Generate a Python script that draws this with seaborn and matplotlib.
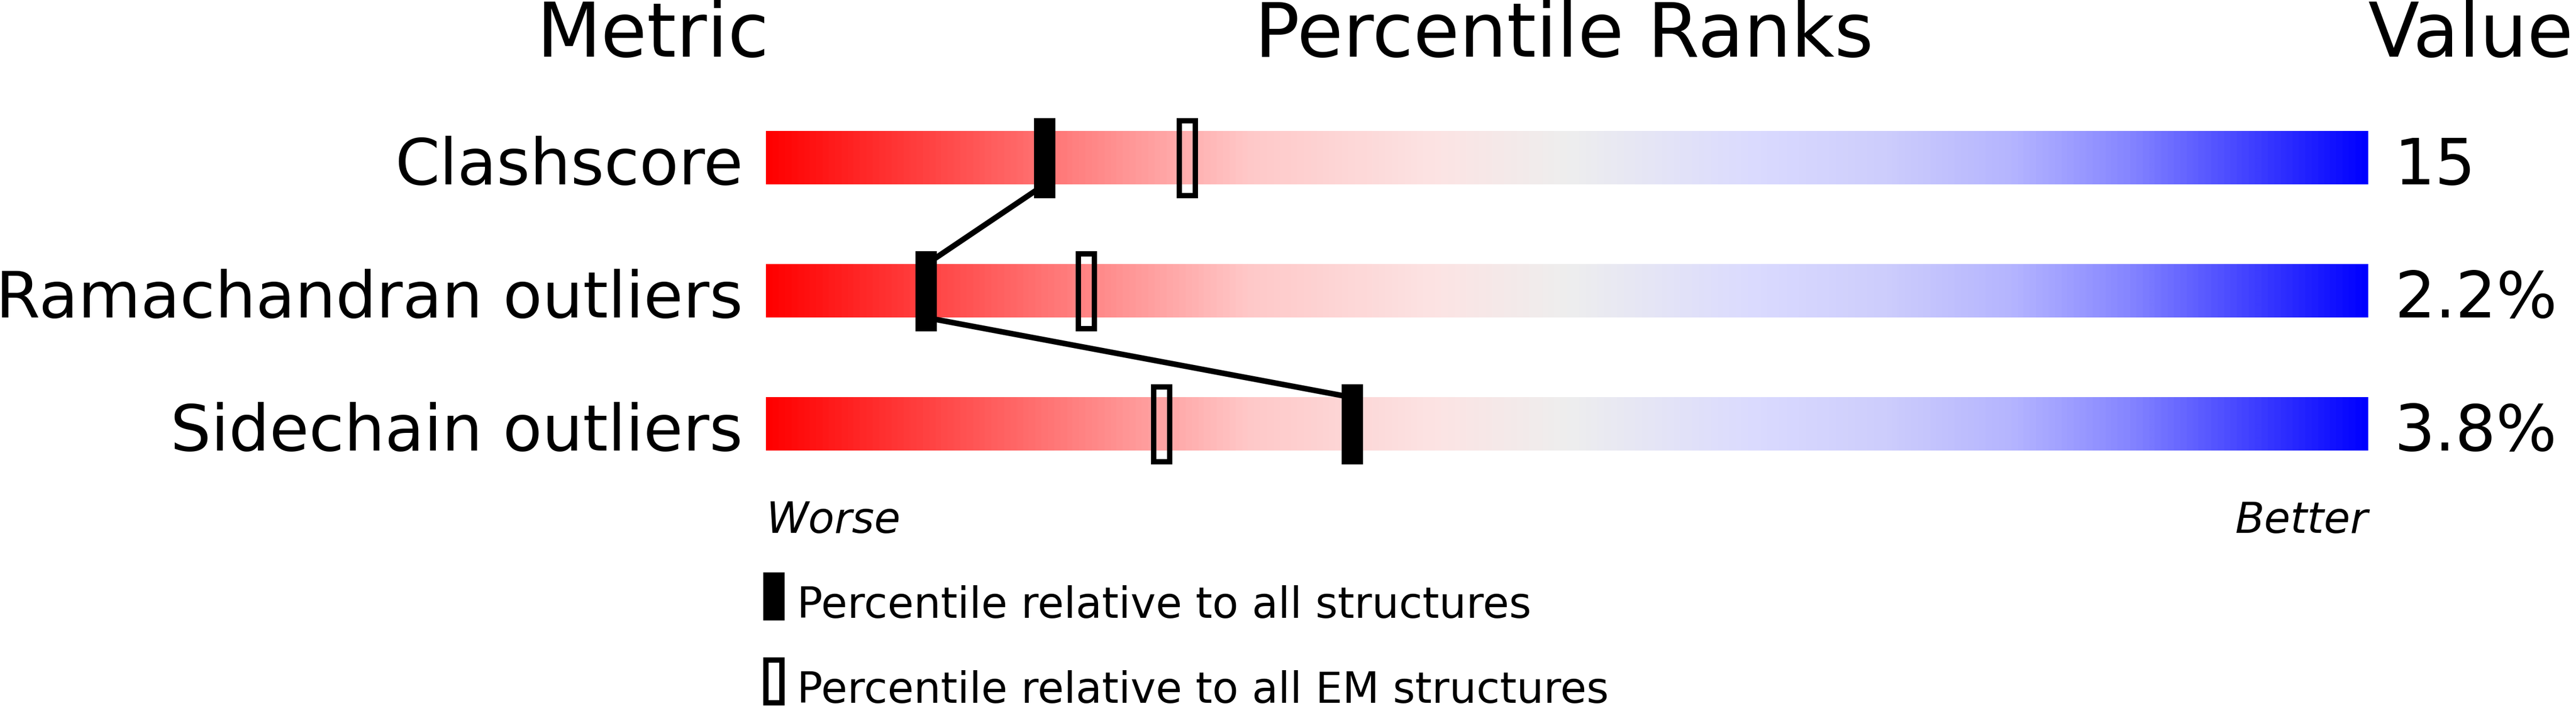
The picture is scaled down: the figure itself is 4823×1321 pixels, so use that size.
import numpy as np
import pandas as pd
import seaborn as sns
import matplotlib.pyplot as plt
from matplotlib.path import Path
from matplotlib.lines import Line2D
from matplotlib.colors import LinearSegmentedColormap

metrics = ["Clashscore", "Ramachandran outliers", "Sidechain outliers"]
values = ["15", "2.2%", "3.8%"]
pct_all = [17.4, 10.0, 36.6]   # percentile vs all structures
pct_em = [26.3, 20.0, 24.7]    # percentile vs EM structures
legend_labels = ["Percentile relative to all structures",
                 "Percentile relative to all EM structures"]

sns.set_style("white")
plt.rcParams["font.family"] = ["DejaVu Sans"]
plt.rcParams["text.color"] = "black"

W, H, DPI = 4823, 1321, 100
PT = 72 / DPI  # points per pixel

fig = plt.figure(figsize=(W / DPI, H / DPI), dpi=DPI)
ax = fig.add_axes([1434 / W, 1 - 918 / H, 3000 / W, 747 / H])

# red -> grey -> blue slider
grad_cmap = LinearSegmentedColormap.from_list("slider", [
    (0.0, (1.0, 0.0, 0.0)),
    (0.3, (1.0, 200 / 255, 200 / 255)),
    (0.42, (252 / 255, 228 / 255, 228 / 255)),
    (0.5, (238 / 255, 238 / 255, 238 / 255)),
    (0.62, (218 / 255, 218 / 255, 1.0)),
    (0.7, (205 / 255, 205 / 255, 252 / 255)),
    (0.78, (180 / 255, 180 / 255, 1.0)),
    (0.85, (135 / 255, 135 / 255, 1.0)),
    (1.0, (0.0, 0.0, 1.0)),
])
ramp = np.linspace(0, 1, 1500)[None, :]
half = 0.2
for i in range(len(metrics)):
    ax.imshow(ramp, cmap=grad_cmap, aspect="auto", interpolation="bilinear",
              extent=(0, 100, i + half, i - half), zorder=1)


def bar_marker(w, h, border=None):
    codes = [Path.MOVETO] + [Path.LINETO] * 3 + [Path.CLOSEPOLY]
    outer = [(-w / 2, -h / 2), (w / 2, -h / 2), (w / 2, h / 2), (-w / 2, h / 2), (-w / 2, -h / 2)]
    if border is None:
        return Path(outer, codes)
    iw, ih = w / 2 - border, h / 2 - border
    inner = [(-iw, -ih), (-iw, ih), (iw, ih), (iw, -ih), (-iw, -ih)]
    return Path(outer + inner, codes + codes)


ranks = pd.DataFrame({
    "row": list(range(len(metrics))) * 2,
    "pct": pct_all + pct_em,
    "ref": ["all"] * len(pct_all) + ["EM"] * len(pct_em),
})

# connector between the "all structures" markers
line_x, line_y = [], []
for i, p in enumerate(pct_all):
    if i > 0:
        line_x.append(p)
        line_y.append(i - half)
    if i < len(pct_all) - 1:
        line_x.append(p)
        line_y.append(i + half)
sns.lineplot(x=line_x, y=line_y, sort=False, estimator=None, color="black",
             linewidth=10.5 * PT, ax=ax, zorder=3)

sns.scatterplot(data=ranks, x="pct", y="row", style="ref",
                markers={"all": bar_marker(40, 150), "EM": bar_marker(40, 150, 10)},
                s=(150 * PT) ** 2, color="black", linewidth=0, edgecolor="none",
                legend=False, ax=ax, zorder=4)

for i, (m, v) in enumerate(zip(metrics, values)):
    ax.text(-1.43, i + half, m, ha="right", va="baseline", fontsize=120 * PT)
    ax.text(101.63, i + half, v, ha="left", va="baseline", fontsize=120 * PT)

ax.text(0.2, -0.761, "Metric", ha="right", va="baseline", fontsize=140 * PT)
ax.text(49.8, -0.761, "Percentile Ranks", ha="center", va="baseline", fontsize=140 * PT)
ax.text(100, -0.761, "Value", ha="left", va="baseline", fontsize=140 * PT)

ax.text(0, 2.816, "Worse", ha="left", va="baseline", fontsize=80 * PT, style="italic")
ax.text(100, 2.816, "Better", ha="right", va="baseline", fontsize=80 * PT, style="italic")

handles = [
    Line2D([], [], ls="none", marker=bar_marker(40, 90), markersize=90 * PT,
           markerfacecolor="black", markeredgewidth=0),
    Line2D([], [], ls="none", marker=bar_marker(40, 90, 10), markersize=90 * PT,
           markerfacecolor="black", markeredgewidth=0),
]
ax.legend(handles, legend_labels, loc="upper left",
          bbox_to_anchor=(1409 / W, 1 - 1076 / H), bbox_transform=fig.transFigure,
          frameon=False, fontsize=80 * PT, handlelength=1.0, handleheight=1.7,
          handletextpad=0.0375, labelspacing=0.64, borderpad=0, borderaxespad=0,
          labelcolor="black")

ax.set_xlim(0, 100)
ax.set_ylim(2.5, -0.5)
ax.axis("off")

fig.savefig("out.png", dpi=DPI)
